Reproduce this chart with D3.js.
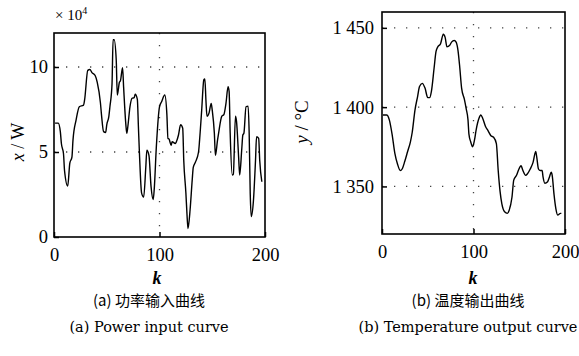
<!DOCTYPE html>
<html>
<head>
<meta charset="utf-8">
<script src="https://cdn.jsdelivr.net/npm/d3@7"></script>
<style>
  body { margin: 0; background: #fff; }
  text { font-family: "Liberation Serif", "Times New Roman", serif; fill: #000; }
  .cjk { font-family: "Noto Sans CJK SC", sans-serif; }
</style>
</head>
<body>
<svg id="chart" width="579" height="356"></svg>
<script>
// (a) power input, x in units of 10^4 W
const kPower = [1,4,6,7,9,10,13,15,17,18,21,24,28,29,32,34,36,39,41,44,45,47,49,50,52,53,55,56,57,59,
  60,62,63,65,66,68,69,70,72,74,76,77,79,80,81,83,85,87,88,90,92,94,95,97,100,102,105,107,108,109,
  111,112,115,116,118,120,122,123,125,126,127,129,131,132,134,137,138,140,142,143,144,145,147,149,150,
  152,153,155,156,159,161,163,165,166,167,169,170,172,173,175,176,178,179,180,182,184,185,186,187,189,
  191,192,194,195,197];
const power = [6.7,6.7,6.2,5.5,4.9,3.9,3.0,4.35,4.7,5.7,6.9,7.66,7.76,8.06,9.8,9.85,9.67,9.5,9.1,7.9,
  7.2,6.2,6.15,6.6,7.1,7.66,9.0,11.6,11.6,10.4,8.35,9.1,9.2,9.96,8.8,6.7,6.1,6.5,7.66,8.16,
  8.2,8.4,8.1,6.5,4.9,2.6,2.35,4.1,5.1,4.8,2.96,2.2,2.8,5.3,7.66,7.96,8.35,7.2,5.8,5.77,
  5.4,5.6,5.5,5.6,6.0,6.6,6.4,4.5,2.6,1.4,0.5,1.6,3.35,4.1,4.4,5.0,5.7,7.47,9.24,9.3,
  8.06,7.1,7.3,7.86,7.45,6.1,4.8,5.7,6.1,7.1,7.2,7.86,8.84,8.55,6.1,3.65,3.7,7.1,6.8,4.7,
  3.65,5.2,6.0,6.1,7.66,7.7,6.1,2.56,1.2,2.1,4.5,5.9,5.8,4.5,3.25];

// (b) temperature output, degrees C
const kTemp = [1,5,8,11,14,17,20,22,25,28,31,33,36,39,41,44,47,50,52,54,57,59,61,64,67,69,71,74,76,79,
  81,83,85,87,90,92,94,95,97,99,101,103,106,108,110,113,116,119,122,125,127,129,131,134,137,139,142,144,147,149,
  152,154,157,159,162,165,168,169,171,173,175,176,178,181,183,185,186,188,190,192,195,196];
const temp = [1395,1395,1392,1383,1371,1364,1360,1361,1366,1372,1378,1384,1398,1407,1413,1415,1412,1406,1406,1410,
  1425,1435,1438,1440,1446,1444,1438,1439,1441,1442,1441,1436,1425,1412,1405,1399,1392,1383,1378,1375,
  1379,1386,1393,1395,1393,1388,1385,1382,1381,1377,1360,1347,1339,1334,1333,1335,1343,1354,1357,1360,
  1363,1360,1357,1358,1361,1365,1372,1369,1361,1360,1360,1356,1352,1353,1356,1359,1357,1345,1336,1332,
  1333,1333];

const kTicks = [0, 100, 200];
const powerTicks = [0, 5, 10];
const tempTicks = [1350, 1400, 1450];

const SERIF = '"Liberation Serif", "Times New Roman", serif';
const svg = d3.select('#chart');

function drawPanel(p) {
  const x = d3.scaleLinear().domain([0, 200]).range([p.left, p.right]);
  const y = d3.scaleLinear().domain(p.yDomain).range([p.bottom, p.top]);
  const g = svg.append('g');

  // dotted grid
  g.selectAll('.gy').data(p.gridY).enter().append('line')
    .attr('x1', p.left).attr('x2', p.right)
    .attr('y1', d => y(d)).attr('y2', d => y(d))
    .attr('stroke', '#444').attr('stroke-width', 1.3)
    .attr('stroke-dasharray', '1.3,10.7');
  g.selectAll('.gx').data([100]).enter().append('line')
    .attr('x1', d => x(d)).attr('x2', d => x(d))
    .attr('y1', p.top).attr('y2', p.bottom)
    .attr('stroke', '#444').attr('stroke-width', 1.3)
    .attr('stroke-dasharray', '1.3,10.7');

  // axes with inward ticks
  const ax = g.append('g').attr('transform', `translate(0,${p.bottom})`)
    .call(d3.axisBottom(x).tickValues(kTicks).tickSizeInner(-5).tickSizeOuter(0).tickPadding(11));
  const ay = g.append('g').attr('transform', `translate(${p.left},0)`)
    .call(d3.axisLeft(y).tickValues(p.yTicks).tickSizeInner(-5).tickSizeOuter(0).tickPadding(p.pad)
      .tickFormat(p.fmt));
  [ax, ay].forEach(a => {
    a.attr('font-family', SERIF).attr('font-size', 18.5);
    a.select('.domain').remove();
    a.selectAll('line').attr('stroke', '#000').attr('stroke-width', 1.5);
    a.selectAll('text').attr('fill', '#000');
  });

  // curve
  g.append('path')
    .datum(d3.zip(p.k, p.v))
    .attr('fill', 'none').attr('stroke', '#000').attr('stroke-width', 1.4)
    .attr('d', d3.line().x(d => x(d[0])).y(d => y(d[1])).curve(d3.curveMonotoneX));

  // frame
  g.append('rect')
    .attr('x', p.left).attr('y', p.top)
    .attr('width', p.right - p.left).attr('height', p.bottom - p.top)
    .attr('fill', 'none').attr('stroke', '#000').attr('stroke-width', 1.6);

  // y label
  const yl = g.append('text')
    .attr('transform', `translate(${p.ylx},${p.yly}) rotate(-90)`)
    .attr('text-anchor', 'middle').style('font-size', p.ylSize + 'px');
  yl.append('tspan').style('font-style', 'italic').text(p.yVar);
  yl.append('tspan').text(' / ' + p.yUnit);

  // x label
  g.append('text').attr('x', p.klx).attr('y', 284)
    .attr('text-anchor', 'middle').style('font-size', '18px')
    .style('font-style', 'italic').style('font-weight', 'bold').text('k');

  // captions
  g.append('text').attr('class', 'cjk').attr('x', p.cap).attr('y', 306)
    .attr('text-anchor', 'middle').style('font-size', '15px')
    .text(p.capCn);
  g.append('text').attr('x', p.cap).attr('y', 332)
    .attr('text-anchor', 'middle')
    .style('font-family', '"DejaVu Serif", serif').style('font-size', '14.5px')
    .text(p.capEn);
}

drawPanel({
  left: 54, right: 265, top: 33, bottom: 237,
  yDomain: [0, 12], yTicks: powerTicks, gridY: [5, 10], fmt: d3.format('d'), pad: 6,
  k: kPower, v: power, yVar: 'x', yUnit: 'W', ylx: 24, yly: 142, ylSize: 18, klx: 157,
  cap: 149, capCn: '(a) 功率输入曲线', capEn: '(a) Power input curve'
});
drawPanel({
  left: 382, right: 565, top: 12, bottom: 234,
  yDomain: [1320, 1460], yTicks: tempTicks, gridY: tempTicks, pad: 8,
  fmt: d => String(d).slice(0, 1) + ' ' + String(d).slice(1),
  k: kTemp, v: temp, yVar: 'y', yUnit: '°C', ylx: 308, yly: 122, ylSize: 19, klx: 473,
  cap: 468, capCn: '(b) 温度输出曲线', capEn: '(b) Temperature output curve'
});

// exponent note
const ex = svg.append('text').attr('x', 55).attr('y', 20).style('font-size', '15px');
ex.append('tspan').text('× 10');
ex.append('tspan').attr('dy', -6).style('font-size', '10px').text('4');
</script>
</body>
</html>
